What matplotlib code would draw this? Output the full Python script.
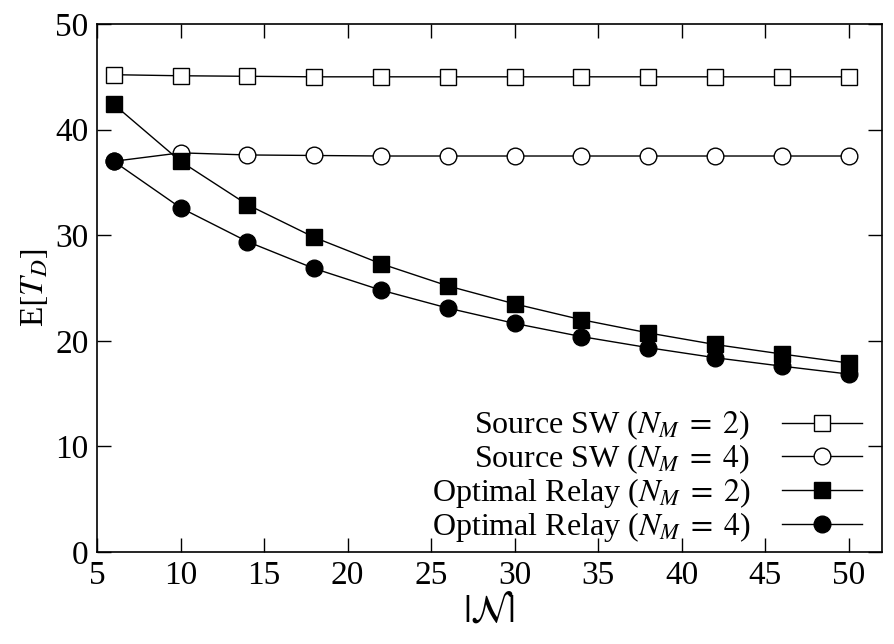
import matplotlib.pyplot as plt

plt.rcParams['font.family'] = ['Liberation Serif', 'DejaVu Serif']
plt.rcParams['mathtext.fontset'] = 'stix'
plt.rcParams['font.size'] = 24

nodes = [6, 10, 14, 18, 22, 26, 30, 34, 38, 42, 46, 50]
source_sw_2 = [45.2, 45.1, 45.05, 45.0, 45.0, 45.0, 45.0, 45.0, 45.0, 45.0, 45.0, 45.0]
source_sw_4 = [37.0, 37.8, 37.6, 37.55, 37.5, 37.5, 37.5, 37.5, 37.5, 37.5, 37.5, 37.5]
relay_2 = [42.4, 37.0, 32.9, 29.8, 27.3, 25.2, 23.5, 22.0, 20.75, 19.65, 18.75, 17.9]
relay_4 = [37.0, 32.6, 29.4, 26.85, 24.8, 23.1, 21.65, 20.4, 19.35, 18.4, 17.6, 16.85]

fig = plt.figure(figsize=(8.94, 6.44), dpi=100)
ax = fig.add_axes([0.1085, 0.1429, 0.878, 0.8198])

ax.plot(nodes, source_sw_2, color='black', lw=1, marker='s', ms=11,
        mfc='white', mec='black', mew=1, label=r'Source SW ($N_M\;=\;2$)')
ax.plot(nodes, source_sw_4, color='black', lw=1, marker='o', ms=12,
        mfc='white', mec='black', mew=1, label=r'Source SW ($N_M\;=\;4$)')
ax.plot(nodes, relay_2, color='black', lw=1, marker='s', ms=11,
        mfc='black', mec='black', label=r'Optimal Relay ($N_M\;=\;2$)')
ax.plot(nodes, relay_4, color='black', lw=1, marker='o', ms=12,
        mfc='black', mec='black', label=r'Optimal Relay ($N_M\;=\;4$)')

ax.set_xlim(5, 52)
ax.set_ylim(0, 50)
ax.set_xticks(range(5, 51, 5))
ax.set_yticks(range(0, 51, 10))
ax.tick_params(direction='in', length=10, width=1, top=True, right=True, pad=6)
for s in ax.spines.values():
    s.set_linewidth(1.2)

ax.set_xlabel(r'$|\mathcal{N}|$', fontsize=28, labelpad=2)
ax.set_ylabel(r'E$[T_D]$', labelpad=4)

ax.legend(loc='lower right', bbox_to_anchor=(0.975, 0.015), frameon=False,
          markerfirst=False, handlelength=2.5, handletextpad=1.0,
          labelspacing=0.0, borderpad=0, borderaxespad=0, fontsize=23)

fig.savefig('out.png', dpi=100)
